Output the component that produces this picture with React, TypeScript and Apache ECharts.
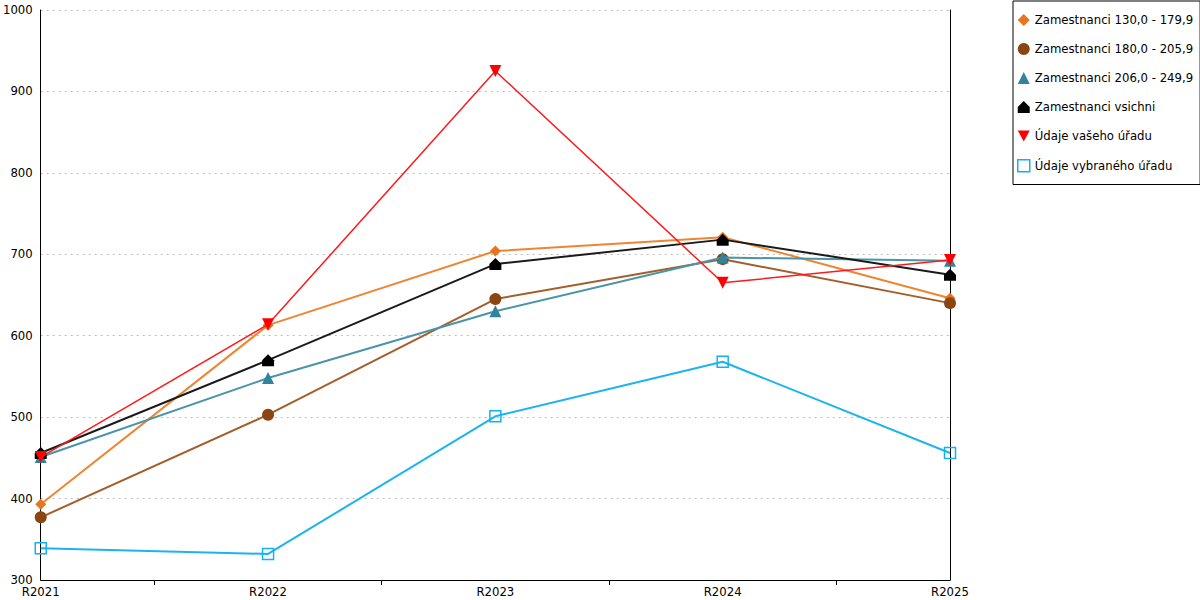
import React, { useEffect, useRef } from "react";
import * as echarts from "echarts";

const categories = ["R2021", "R2022", "R2023", "R2024", "R2025"];
const seriesNames = [
  "Zamestnanci 130,0 - 179,9",
  "Zamestnanci 180,0 - 205,9",
  "Zamestnanci 206,0 - 249,9",
  "Zamestnanci vsichni",
  "Údaje vašeho úřadu",
  "Údaje vybraného úřadu",
];
const zam130 = [393, 613, 704, 721, 646];
const zam180 = [377, 503, 645, 694, 640];
const zam206 = [451, 548, 630, 696, 692];
const zamVsichni = [456, 570, 688, 718, 675];
const vasUrad = [451, 614, 925, 665, 693];
const vybranyUrad = [339, 332, 501, 568, 456];
const yTicks = { min: 300, max: 1000, interval: 100 };

const HOUSE = "path://M6,0 L12,6 L12,12 L0,12 L0,6 Z";
const DOWN = "path://M0,0 L12,0 L6,11 Z";

export default function App() {
  const ref = useRef<HTMLDivElement>(null);
  useEffect(() => {
    if (!ref.current) return;
    const chart = echarts.init(ref.current, undefined, { renderer: "svg" });
    const font = "DejaVu Sans";
    const fs = 11.7;
    const styles = [
      { color: "#E8741C", line: "#EE8530", symbol: "diamond", size: 11, width: 2 },
      { color: "#8B4513", line: "#A35E2A", symbol: "circle", size: 12, width: 2 },
      { color: "#31849B", line: "#4A94A8", symbol: "triangle", size: 12, width: 2 },
      { color: "#000000", line: "#1A1A1A", symbol: HOUSE, size: 12, width: 2 },
      { color: "#FF0000", line: "#FF1A1A", symbol: DOWN, size: 12, width: 1.5 },
      { color: "#12B2EE", line: "#1CB4EE", symbol: "rect", size: 11, width: 2, hollow: true },
    ];
    const datas = [zam130, zam180, zam206, zamVsichni, vasUrad, vybranyUrad];
    const series = datas.map((d, i) => {
      const s = styles[i];
      return {
        name: seriesNames[i],
        type: "line",
        xAxisIndex: 0,
        yAxisIndex: 0,
        data: d,
        symbol: s.symbol,
        symbolSize: s.size,
        showAllSymbol: true,
        lineStyle: { color: s.line, width: s.width },
        itemStyle: s.hollow
          ? { color: "rgba(0,0,0,0)", borderColor: s.color, borderWidth: 1.5 }
          : { color: s.color, borderWidth: 0 },
        emphasis: { disabled: true },
        z: 2 + i,
      };
    });
    chart.setOption({
      animation: false,
      textStyle: { fontFamily: font },
      grid: { left: 40, top: 10, width: 910, height: 570, containLabel: false },
      legend: {
        orient: "vertical",
        left: 1013,
        top: 1,
        padding: [13, 7, 12, 4],
        itemGap: 17,
        itemWidth: 12,
        itemHeight: 12,
        borderColor: "#000",
        borderWidth: 1,
        textStyle: { fontFamily: font, fontSize: fs, color: "#000" },
        selectedMode: false,
        data: seriesNames.map((n, i) => {
          const s = styles[i];
          return {
            name: n,
            icon: s.symbol,
            itemStyle: s.hollow
              ? { color: "rgba(0,0,0,0)", borderColor: s.color, borderWidth: 1.5 }
              : { color: s.color, borderWidth: 0 },
          };
        }),
      },
      xAxis: [
        {
          type: "category",
          data: categories,
          boundaryGap: false,
          axisLine: { show: true, lineStyle: { color: "#000", width: 1 } },
          axisTick: { show: false },
          axisLabel: { color: "#000", fontSize: fs, fontFamily: font, margin: 6 },
          splitLine: { show: false },
        },
        {
          type: "category",
          data: ["a", "b", "c", "d"],
          position: "bottom",
          boundaryGap: true,
          axisLine: { show: false },
          axisTick: { show: true, alignWithLabel: true, length: 5, lineStyle: { color: "#000" } },
          axisLabel: { show: false },
          splitLine: { show: false },
        },
      ],
      yAxis: [
        {
          type: "value",
          min: yTicks.min,
          max: yTicks.max,
          interval: yTicks.interval,
          axisLine: { show: true, lineStyle: { color: "#000", width: 1 } },
          axisTick: { show: false },
          axisLabel: {
            color: "#000",
            fontSize: fs,
            fontFamily: font,
            margin: 8,
            formatter: (v: number) => String(v),
          },
          splitLine: { show: true, lineStyle: { color: "#BDBDBD", type: [2, 4], width: 1 } },
        },
        {
          type: "value",
          position: "right",
          min: yTicks.min,
          max: yTicks.max,
          interval: yTicks.interval,
          axisLine: { show: true, lineStyle: { color: "#000", width: 1 } },
          axisTick: { show: false },
          axisLabel: { show: false },
          splitLine: { show: false },
        },
      ],
      series,
    });
    return () => chart.dispose();
  }, []);
  return (
    <div
      ref={ref}
      style={{ position: "fixed", left: 0, top: 0, width: 1200, height: 600, background: "#fff" }}
    />
  );
}
